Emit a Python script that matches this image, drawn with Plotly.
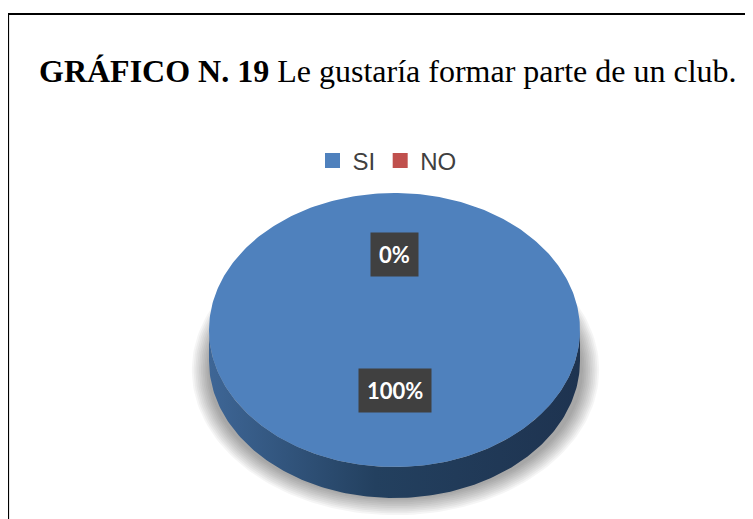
import numpy as np
import plotly.graph_objects as go

# ---------------- data ----------------
categories = ["SI", "NO"]
values = [100, 0]
slice_colors = ["#4F81BD", "#C0504D"]
side_gradients = [
    [[0, "#3E6696"], [0.45, "#23405F"], [1, "#1E3350"]],
    [[0, "#9A3E3C"], [0.45, "#6E2B29"], [1, "#5E2422"]],
]
title_bold = "GRÁFICO N. 19"
title_rest = "Le gustaría formar parte de un club."

# ---------------- geometry (screen pixels) ----------------
W, H = 753, 519
OFF = 8  # page body margin
CX, CY = 394.5, 330.0
RX, RY = 185.5, 137.0
DEPTH = 31.0
LABEL_R = {"SI": 0.44, "NO": 0.55}

total = float(sum(values))
shares = [v / total for v in values]
starts = list(np.cumsum([0] + shares[:-1]) * 360.0)
ends = [s + sh * 360.0 for s, sh in zip(starts, shares)]


def ell(phi_deg, r=1.0, dy=0.0):
    p = np.radians(phi_deg)
    return CX + RX * r * np.sin(p), CY + dy - RY * r * np.cos(p)


fig = go.Figure()

# soft shadow under the pie
for k in range(10):
    a = RX + 2 + 1.8 * k
    b = RY - 8 + 1.8 * k
    t = np.linspace(0, 2 * np.pi, 200)
    fig.add_trace(go.Scatter(
        x=CX + 1 + a * np.cos(t), y=CY + 40 + b * np.sin(t),
        mode="lines", line=dict(width=0), fill="toself",
        fillcolor="rgba(0,0,0,0.04)", hoverinfo="skip", showlegend=False))

# side walls (front half only)
for cat, s, e, grad in zip(categories, starts, ends, side_gradients):
    lo, hi = max(s, 90.0), min(e, 270.0)
    if hi <= lo:
        continue
    ph = np.linspace(lo, hi, 160)
    xt, yt = ell(ph)
    xb, yb = ell(ph[::-1], dy=DEPTH)
    fig.add_trace(go.Scatter(
        x=np.concatenate([xt, xb]), y=np.concatenate([yt, yb]),
        mode="lines", line=dict(width=0), fill="toself",
        fillgradient=dict(type="horizontal", colorscale=grad),
        hoverinfo="skip", showlegend=False))

# top faces of slices
for cat, s, e, col in zip(categories, starts, ends, slice_colors):
    n = max(2, int(abs(e - s) / 1.0) + 2)
    ph = np.linspace(s, e, n)
    xa, ya = ell(ph)
    fig.add_trace(go.Scatter(
        x=np.concatenate([[CX], xa, [CX]]), y=np.concatenate([[CY], ya, [CY]]),
        mode="lines", line=dict(width=0), fill="toself", fillcolor=col,
        name=cat, hoverinfo="skip", showlegend=False))

# legend entries
for cat, col in zip(categories, slice_colors):
    fig.add_trace(go.Scatter(
        x=[None], y=[None], mode="markers", name=cat,
        marker=dict(symbol="square", size=15, color=col)))

annotations = []
# data labels
for cat, s, e, v in zip(categories, starts, ends, values):
    mid = (s + e) / 2.0
    lx, ly = ell(mid, r=LABEL_R[cat])
    txt = f"{v / total * 100:.0f}%"
    annotations.append(dict(
        x=lx, y=ly, xref="x", yref="y", text=f"<b>{txt}</b>",
        showarrow=False, font=dict(family="Lato", size=22, color="white"),
        bgcolor="#404040", borderpad=8))

# title
annotations.append(dict(
    x=388, y=71, xref="x", yref="y", xanchor="center", yanchor="middle",
    text=f"<b>{title_bold}</b> {title_rest}", showarrow=False,
    font=dict(family="Liberation Serif, Times New Roman, serif", size=32, color="black")))

fig.update_layout(
    width=W, height=H, autosize=False,
    margin=dict(l=0, r=0, t=0, b=0),
    paper_bgcolor="white", plot_bgcolor="white",
    xaxis=dict(range=[OFF, W + OFF], visible=False, fixedrange=True),
    yaxis=dict(range=[H + OFF, OFF], visible=False, fixedrange=True),
    showlegend=True,
    legend=dict(orientation="h", x=(387 - OFF) / W, xanchor="center",
                y=1 - (161 - OFF) / H, yanchor="middle",
                font=dict(family="Liberation Sans, Arial, sans-serif", size=24, color="#404040"),
                bgcolor="rgba(0,0,0,0)", itemwidth=30, tracegroupgap=0),
    shapes=[dict(type="rect", xref="x", yref="y", x0=8, y0=14, x1=W + 20, y1=H + 20,
                 line=dict(color="black", width=2.2), fillcolor="rgba(0,0,0,0)")],
    annotations=annotations,
)

fig.write_html("out.html")
